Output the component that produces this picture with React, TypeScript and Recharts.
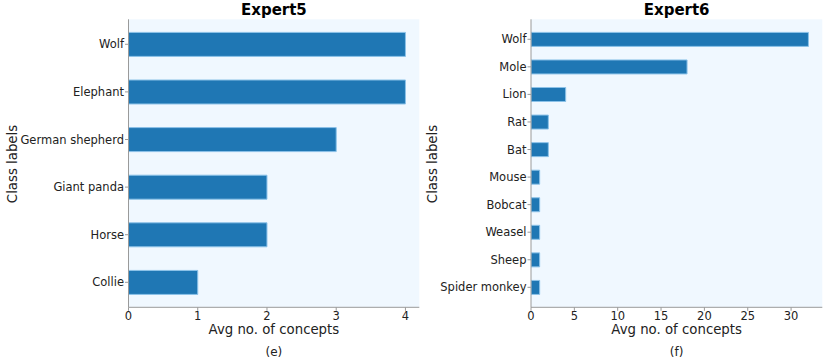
import { BarChart, Bar, XAxis, YAxis, CartesianGrid } from "recharts";

const leftClasses = ["Wolf", "Elephant", "German shepherd", "Giant panda", "Horse", "Collie"];
const leftValues = [4, 4, 3, 2, 2, 1];
const leftTicks = [0, 1, 2, 3, 4];

const rightClasses = [
  "Wolf",
  "Mole",
  "Lion",
  "Rat",
  "Bat",
  "Mouse",
  "Bobcat",
  "Weasel",
  "Sheep",
  "Spider monkey",
];
const rightValues = [32, 18, 4, 2, 2, 1, 1, 1, 1, 1];
const rightTicks = [0, 5, 10, 15, 20, 25, 30];

const FONT = "'DejaVu Sans', sans-serif";
const SPINE = "#9a9a9a";
const BAR = "#1f77b4";
const TICK = { fontSize: 11.5, fill: "#222", fontFamily: FONT };
const PLOT_TOP = 19.3;
const PLOT_H = 288;

interface PanelProps {
  title: string;
  caption: string;
  classes: string[];
  values: number[];
  ticks: number[];
  xMax: number;
  left: number;
  width: number;
  marginLeft: number;
  yAxisWidth: number;
  marginRight: number;
}

const Panel = (props: PanelProps) => {
  const { title, caption, classes, values, ticks, xMax, left, width, marginLeft, yAxisWidth, marginRight } =
    props;
  const data = classes.map((name, i) => ({ name, value: values[i] }));
  const plotLeft = left + marginLeft + yAxisWidth;
  const plotRight = left + width - marginRight;
  const center = (plotLeft + plotRight) / 2;

  // matplotlib-style category padding: bars of height 0.5 plus 5% margins
  const n = classes.length;
  const span = n - 0.5 + 0.05 * (n - 0.5) * 2;
  const unit = PLOT_H / span;
  const pad = (span - n) / 2 * unit;

  return (
    <>
      <div
        style={{
          position: "absolute",
          left: center - 100,
          width: 200,
          top: 1,
          textAlign: "center",
          fontFamily: FONT,
          fontWeight: "bold",
          fontSize: 15,
          color: "#000",
        }}
      >
        {title}
      </div>
      <div style={{ position: "absolute", left, top: 0 }}>
        <BarChart
          width={width}
          height={363}
          layout="vertical"
          data={data}
          barCategoryGap="25%"
          margin={{ top: PLOT_TOP, right: marginRight, bottom: 363 - PLOT_TOP - PLOT_H - 30, left: marginLeft }}
        >
          <CartesianGrid fill="#f0f8ff" horizontal={false} vertical={false} />
          <XAxis
            type="number"
            dataKey="value"
            domain={[0, xMax]}
            ticks={ticks}
            allowDataOverflow
            height={30}
            tickSize={3.5}
            tickMargin={1}
            stroke={SPINE}
            tick={TICK}
            interval={0}
          />
          <XAxis xAxisId="top" type="number" orientation="top" domain={[0, xMax]} height={0} tick={false} tickLine={false} stroke={SPINE} />
          <YAxis
            type="category"
            dataKey="name"
            width={yAxisWidth}
            padding={{ top: pad, bottom: pad }}
            tickSize={3.5}
            tickMargin={1}
            stroke={SPINE}
            tick={TICK}
            interval={0}
          />
          <YAxis yAxisId="right" type="category" dataKey="name" orientation="right" width={0} tick={false} tickLine={false} stroke={SPINE} />
          <Bar dataKey="value" fill={BAR} stroke="#8cc2e8" strokeWidth={1} isAnimationActive={false} />
        </BarChart>
      </div>
      <div
        style={{
          position: "absolute",
          left: center - 100,
          width: 200,
          top: 322,
          textAlign: "center",
          fontFamily: FONT,
          fontSize: 13.3,
          color: "#222",
        }}
      >
        Avg no. of concepts
      </div>
      <div
        style={{
          position: "absolute",
          left: center - 25,
          width: 50,
          top: 345,
          textAlign: "center",
          fontFamily: FONT,
          fontSize: 12,
          color: "#222",
        }}
      >
        {caption}
      </div>
      <div
        style={{
          position: "absolute",
          left: left + 12.5 - 60,
          width: 120,
          top: 163.5 - 9,
          height: 18,
          lineHeight: "18px",
          textAlign: "center",
          fontFamily: FONT,
          fontSize: 13.3,
          color: "#222",
          transform: "rotate(-90deg)",
        }}
      >
        Class labels
      </div>
    </>
  );
};

export default function App() {
  return (
    <div style={{ position: "absolute", left: 0, top: 0, width: 831, height: 363, background: "#fff" }}>
      <Panel
        title="Expert5"
        caption="(e)"
        classes={leftClasses}
        values={leftValues}
        ticks={leftTicks}
        xMax={4.2}
        left={0}
        width={430}
        marginLeft={8.5}
        yAxisWidth={120}
        marginRight={10.7}
      />
      <Panel
        title="Expert6"
        caption="(f)"
        classes={rightClasses}
        values={rightValues}
        ticks={rightTicks}
        xMax={33.6}
        left={420}
        width={411}
        marginLeft={6}
        yAxisWidth={105}
        marginRight={8.7}
      />
    </div>
  );
}
